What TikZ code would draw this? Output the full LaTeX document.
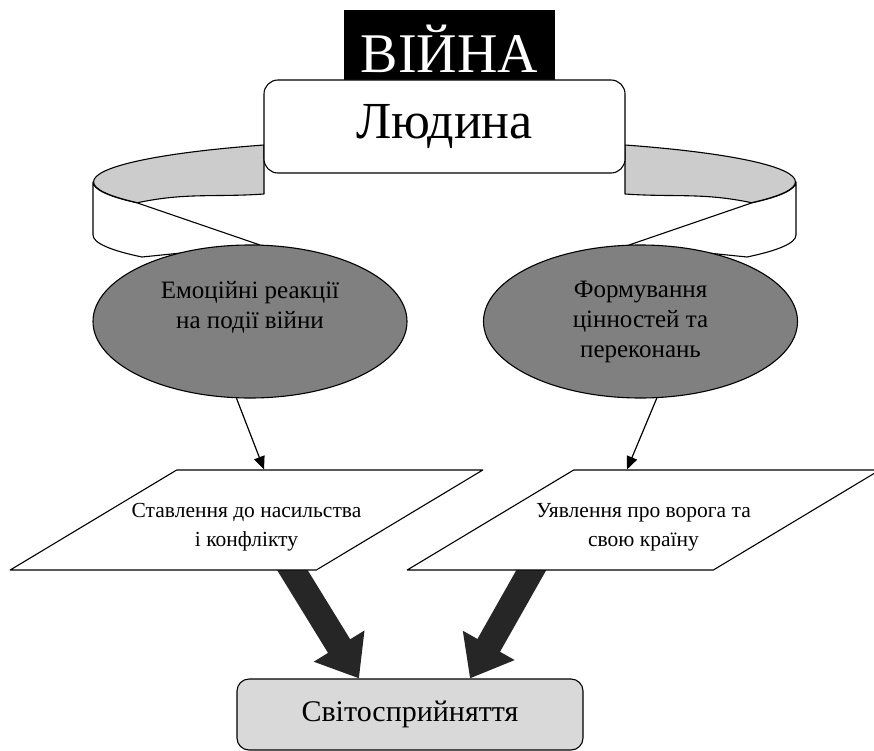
\documentclass[tikz,border=0pt]{standalone}
\usepackage{fontspec}
\setmainfont{Liberation Serif}
\usetikzlibrary{arrows.meta, shapes.geometric}

\tikzset{
  ribbon/.style = {draw, line width=1.1pt},
  warbox/.style = {fill=black, text=white, minimum width=211pt, minimum height=78pt,
                   font=\fontsize{56}{62}\selectfont},
  box/.style = {draw, line width=1.1pt, rounded corners=14pt, fill=white},
  bubble/.style = {ellipse, draw, line width=1.1pt, fill=black!50,
                   minimum width=314pt, minimum height=153pt},
  bubbletext/.style = {anchor=north, inner sep=0pt, align=center,
                       font=\fontsize{25}{30}\selectfont},
  slab/.style = {trapezium, trapezium left angle=40, trapezium right angle=140,
                 trapezium stretches=true, draw, line width=1.1pt, fill=white,
                 minimum width=473pt, minimum height=100pt},
  slabtext/.style = {anchor=north, inner sep=0pt, align=center,
                     font=\fontsize{21.5}{29}\selectfont},
  link/.style = {line width=1.2pt, -{Triangle[length=13pt, width=11pt]}},
  fat/.style = {line width=26pt, draw=black!85, -{Triangle[length=38pt, width=57pt]}}
}

\begin{document}
\begin{tikzpicture}[x=1pt, y=1pt, line join=round]
    \useasboundingbox (0,0) rectangle (874,-751);

    % the bent band round the person box
    \foreach \side in {1,-1}{
        \begin{scope}[xshift=444.5pt, xscale=\side]
            \path [ribbon, fill=white] (-351.5,-182)
                arc [start angle=180, end angle=209, x radius=351.5, y radius=43]
                -- (-184.5,-245) -- (-302.5,-257)
                arc [start angle=210.6, end angle=180, x radius=351.5, y radius=43]
                -- cycle;
            \path [ribbon, fill=black!20] (-180.5,-145)
                arc [start angle=121, end angle=180, x radius=351.5, y radius=43]
                arc [start angle=180, end angle=209, x radius=351.5, y radius=43]
                to [out=12, in=184] (-180.5,-194) -- cycle;
        \end{scope}
    }

    \node (war) [warbox] at (449.5,-49) {ВІЙНА};
    \node (person) [box, minimum width=361pt, minimum height=93pt,
                    font=\fontsize{52}{58}\selectfont] at (444.5,-126.5) {Людина};

    \node (emo) [bubble] at (250,-321.5) {};
    \node (values) [bubble] at (640.5,-321.5) {};
    \node (emotext) [bubbletext] at (250,-281) {Емоційні реакції\\на події війни};
    \node (valuestext) [bubbletext] at (640.5,-281) {Формування\\цінностей та\\переконань};

    \node (world) [box, rounded corners=12pt, fill=black!15, minimum width=346pt,
                   minimum height=71pt, font=\fontsize{30}{36}\selectfont]
                   at (410,-714.5) {Світосприйняття};

    \coordinate (stancefoot) at (280,-550);
    \coordinate (foefoot) at (542.7,-550);
    \draw [fat] (stancefoot) -- ([xshift=-51pt]world.north);
    \draw [fat] (foefoot) -- ([xshift=60pt]world.north);

    \node (stance) [slab] at (246.5,-520) {};
    \node (foe) [slab] at (643.5,-520) {};
    \node (stancetext) [slabtext] at (246.5,-503) {Ставлення до насильства\\і конфлікту};
    \node (foetext) [slabtext] at (643.5,-503) {Уявлення про ворога та\\свою країну};

    \draw [link] (emo.260) -- ([xshift=17.5pt]stance.north);
    \draw [link] (values.282) -- ([xshift=-16.5pt]foe.north);

\end{tikzpicture}
\end{document}
